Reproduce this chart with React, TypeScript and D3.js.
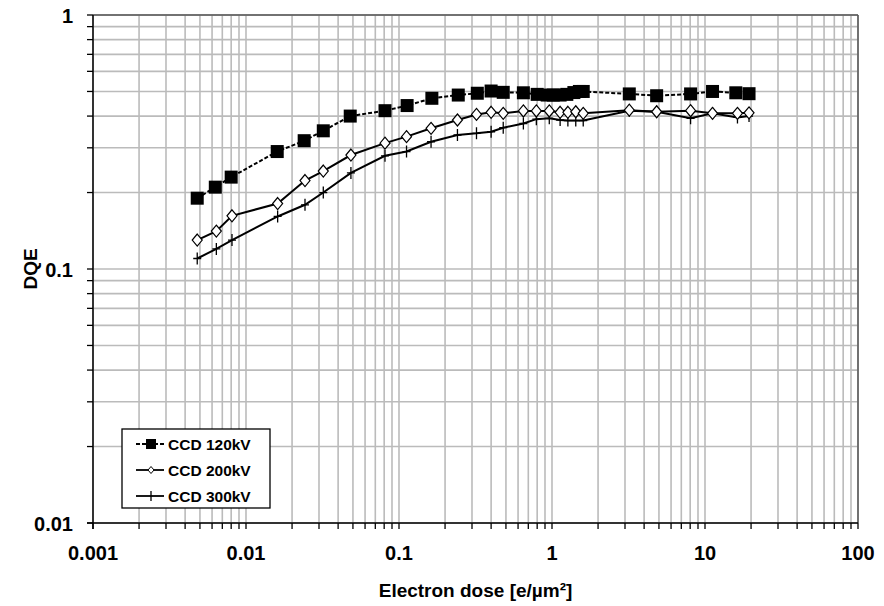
import React from 'react';
import * as d3 from 'd3';

// electron dose [e/um^2] and DQE
const dose120 = [0.0048, 0.0063, 0.008, 0.016, 0.024, 0.032, 0.048, 0.081, 0.113, 0.164, 0.244, 0.325, 0.4, 0.48, 0.65, 0.8, 0.93, 1.02, 1.13, 1.25, 1.39, 1.51, 1.6, 3.2, 4.83, 8.05, 11.2, 15.9, 19.4];
const dqe120 = [0.19, 0.21, 0.23, 0.29, 0.32, 0.35, 0.4, 0.42, 0.44, 0.47, 0.484, 0.492, 0.502, 0.496, 0.494, 0.487, 0.484, 0.484, 0.484, 0.487, 0.495, 0.5, 0.5, 0.489, 0.481, 0.489, 0.5, 0.494, 0.49];
const dose200 = [0.0048, 0.0064, 0.0081, 0.0161, 0.0243, 0.032, 0.0485, 0.081, 0.112, 0.162, 0.241, 0.321, 0.4, 0.48, 0.65, 0.79, 0.96, 1.13, 1.27, 1.43, 1.6, 3.2, 4.83, 8.05, 11.2, 16.3, 19.4];
const dqe200 = [0.13, 0.141, 0.162, 0.181, 0.223, 0.243, 0.281, 0.313, 0.332, 0.358, 0.386, 0.406, 0.414, 0.41, 0.419, 0.419, 0.419, 0.414, 0.414, 0.416, 0.41, 0.422, 0.416, 0.42, 0.41, 0.41, 0.412];
const dose300 = dose200;
const dqe300 = [0.11, 0.12, 0.13, 0.161, 0.179, 0.2, 0.239, 0.279, 0.29, 0.317, 0.337, 0.342, 0.347, 0.36, 0.374, 0.389, 0.392, 0.386, 0.384, 0.384, 0.384, 0.42, 0.416, 0.392, 0.41, 0.395, 0.4];

const xTicks = [0.001, 0.01, 0.1, 1, 10, 100];
const xTickLabels = ['0.001', '0.01', '0.1', '1', '10', '100'];
const yTicks = [0.01, 0.1, 1];
const yTickLabels = ['0.01', '0.1', '1'];
const legendNames = ['CCD 120kV', 'CCD 200kV', 'CCD 300kV'];

const W = 884;
const H = 606;
const left = 93, right = 858, top = 15, bottom = 523;
const font = '"Liberation Sans", Arial, sans-serif';

const x = d3.scaleLog().domain([0.001, 100]).range([left, right]);
const y = d3.scaleLog().domain([0.01, 1]).range([bottom, top]);

// every 1..9 step inside the decades
function minorTicks(lo: number, hi: number) {
  const out: number[] = [];
  for (let p = Math.log10(lo); p < Math.log10(hi); p++) {
    for (let k = 1; k < 10; k++) out.push(k * Math.pow(10, p));
  }
  out.push(hi);
  return out;
}
const xGrid = minorTicks(0.001, 100);
const yGrid = minorTicks(0.01, 1);

const line = d3.line<[number, number]>().x(d => x(d[0])).y(d => y(d[1]));
const zip = (a: number[], b: number[]) => a.map((v, i) => [v, b[i]] as [number, number]);

const Square = ({ cx, cy }: { cx: number; cy: number }) => (
  <rect x={cx - 6.5} y={cy - 6.5} width={13} height={13} fill="#000" />
);
const Diamond = ({ cx, cy }: { cx: number; cy: number }) => (
  <path d={`M${cx},${cy - 6}L${cx + 5},${cy}L${cx},${cy + 6}L${cx - 5},${cy}Z`} fill="#fff" stroke="#000" strokeWidth={1.2} />
);
const Plus = ({ cx, cy }: { cx: number; cy: number }) => (
  <path d={`M${cx},${cy - 6}V${cy + 6}M${cx - 4},${cy}H${cx + 4}`} stroke="#000" strokeWidth={1.3} />
);

export default function App() {
  const s120 = zip(dose120, dqe120);
  const s200 = zip(dose200, dqe200);
  const s300 = zip(dose300, dqe300);
  const legY = [444, 470, 496];
  return (
    <svg width={W} height={H} style={{ position: 'absolute', left: 0, top: 0 }} fontFamily={font}>
      <rect width={W} height={H} fill="#fff" />
      {/* grid */}
      {xGrid.map((v, i) => (
        <line key={'gx' + i} x1={x(v)} x2={x(v)} y1={top} y2={bottom} stroke="#bbbbbb" strokeWidth={1.6} />
      ))}
      {yGrid.map((v, i) => (
        <line key={'gy' + i} x1={left} x2={right} y1={y(v)} y2={y(v)} stroke="#bbbbbb" strokeWidth={1.6} />
      ))}
      {/* frame */}
      <line x1={left} x2={right} y1={top} y2={top} stroke="#555" strokeWidth={1.5} />
      <line x1={right} x2={right} y1={top} y2={bottom} stroke="#555" strokeWidth={1.5} />
      <line x1={left} x2={left} y1={top} y2={bottom + 6} stroke="#000" strokeWidth={1.5} />
      <line x1={left - 6} x2={right} y1={bottom} y2={bottom} stroke="#000" strokeWidth={1.5} />
      {xGrid.map((v, i) => (
        <line key={'tx' + i} x1={x(v)} x2={x(v)} y1={bottom} y2={bottom + 6} stroke="#000" strokeWidth={1.3} />
      ))}
      {yGrid.map((v, i) => (
        <line key={'ty' + i} x1={left - 6} x2={left} y1={y(v)} y2={y(v)} stroke="#000" strokeWidth={1.3} />
      ))}
      {/* tick labels */}
      {xTicks.map((v, i) => (
        <text key={'lx' + i} x={x(v)} y={bottom + 37} textAnchor="middle" fontSize={20} fontWeight="bold">{xTickLabels[i]}</text>
      ))}
      {yTicks.map((v, i) => (
        <text key={'ly' + i} x={left - 20} y={y(v) + 8} textAnchor="end" fontSize={20} fontWeight="bold">{yTickLabels[i]}</text>
      ))}
      <text x={(left + right) / 2} y={597} textAnchor="middle" fontSize={19} fontWeight="bold">Electron dose [e/µm²]</text>
      <text transform={`translate(37,${y(0.1)}) rotate(-90)`} textAnchor="middle" fontSize={19} fontWeight="bold">DQE</text>
      {/* series */}
      <path d={line(s300) || ''} fill="none" stroke="#000" strokeWidth={2} />
      <path d={line(s200) || ''} fill="none" stroke="#000" strokeWidth={2} />
      <path d={line(s120) || ''} fill="none" stroke="#000" strokeWidth={2} strokeDasharray="4,2" />
      {s300.map((d, i) => <Plus key={'p' + i} cx={x(d[0])} cy={y(d[1])} />)}
      {s200.map((d, i) => <Diamond key={'d' + i} cx={x(d[0])} cy={y(d[1])} />)}
      {s120.map((d, i) => <Square key={'s' + i} cx={x(d[0])} cy={y(d[1])} />)}
      {/* legend */}
      <rect x={122} y={429} width={148} height={79} fill="#fff" stroke="#000" strokeWidth={1.3} />
      <line x1={136} x2={164} y1={legY[0]} y2={legY[0]} stroke="#000" strokeWidth={1.8} strokeDasharray="4,2" />
      <rect x={146} y={legY[0] - 5} width={10} height={10} fill="#000" />
      <line x1={136} x2={164} y1={legY[1]} y2={legY[1]} stroke="#000" strokeWidth={1.8} />
      <path d={`M151,${legY[1] - 3.5}L154,${legY[1]}L151,${legY[1] + 3.5}L148,${legY[1]}Z`} fill="#fff" stroke="#000" strokeWidth={1} />
      <line x1={136} x2={164} y1={legY[2]} y2={legY[2]} stroke="#000" strokeWidth={1.8} />
      <line x1={151} x2={151} y1={legY[2] - 5} y2={legY[2] + 5} stroke="#000" strokeWidth={1.3} />
      {legendNames.map((n, i) => (
        <text key={'lg' + i} x={168} y={legY[i] + 5.5} fontSize={15.5} fontWeight="bold">{n}</text>
      ))}
    </svg>
  );
}
